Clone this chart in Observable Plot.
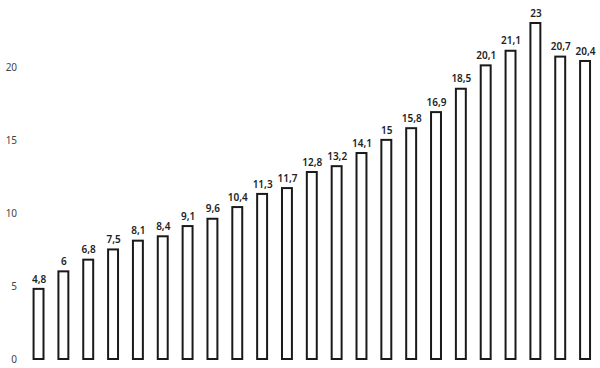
<!DOCTYPE html>
<html>
<head>
<meta charset="utf-8">
<script src="https://cdn.jsdelivr.net/npm/d3@7"></script>
<script src="https://cdn.jsdelivr.net/npm/@observablehq/plot@0.6"></script>
<style>
  html, body { margin: 0; padding: 0; background: #fff; }
  #chart svg { display: block; }
</style>
</head>
<body>
<div id="chart"></div>
<script>
const values = [4.8, 6, 6.8, 7.5, 8.1, 8.4, 9.1, 9.6, 10.4, 11.3, 11.7, 12.8, 13.2, 14.1, 15, 15.8, 16.9, 18.5, 20.1, 21.1, 23, 20.7, 20.4];
const categories = values.map((_, i) => i + 1);
const yTicks = [0, 5, 10, 15, 20];

const data = categories.map((c, i) => ({cat: c, value: values[i]}));
const fmt = v => String(v).replace(".", ",");

const chart = Plot.plot({
  width: 600,
  height: 368,
  marginLeft: 28.6,
  marginRight: 5,
  marginTop: 23,
  marginBottom: 9,
  style: {fontFamily: "'Noto Sans', sans-serif", fontSize: "10px", color: "#333", background: "#fff"},
  x: {domain: categories, paddingInner: 0.6, paddingOuter: 0.2, round: false, axis: null},
  y: {domain: [0, 23], axis: null},
  marks: [
    Plot.axisY(yTicks, {tickSize: 0, tickPadding: 12, fill: "#444", fontSize: 10, label: null}),
    Plot.barY(data, {x: "cat", y: "value", fill: "white", stroke: "#1a1a1a", strokeWidth: 2}),
    Plot.text(data, {x: "cat", y: "value", text: d => fmt(d.value), dy: -10, fill: "#222", fontSize: 10, fontWeight: 600})
  ]
});
document.getElementById("chart").appendChild(chart);
</script>
</body>
</html>
